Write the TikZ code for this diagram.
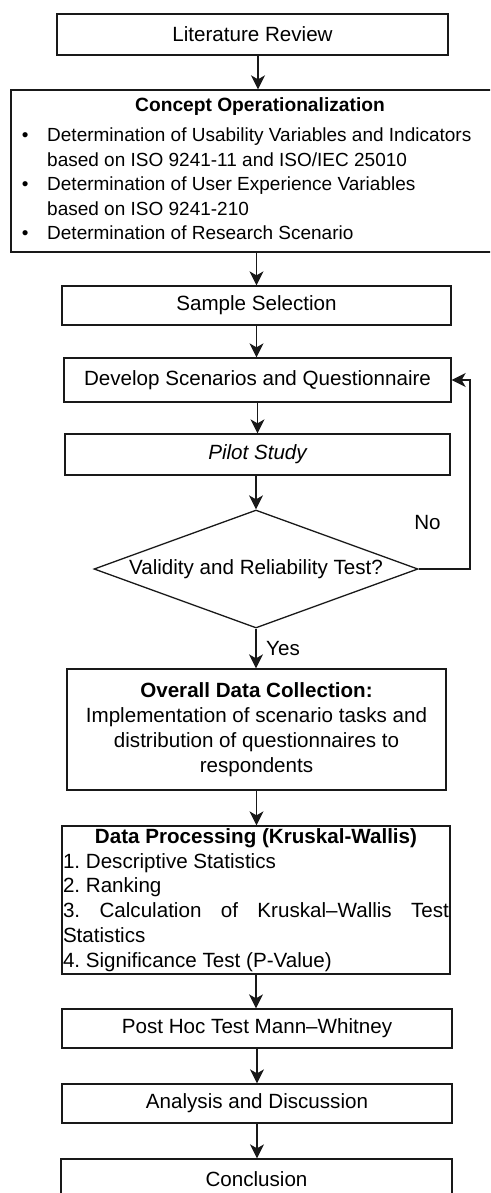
\documentclass[tikz,border=0pt]{standalone}
\usepackage{fontspec}
\setmainfont{Liberation Sans}
\usetikzlibrary{arrows.meta,shapes.geometric}

\begin{document}
\begin{tikzpicture}[x=1pt,y=-1pt,
  every node/.style={font=\fontsize{20.6}{24.8}\selectfont, text=black},
  small/.style={font=\fontsize{19}{24.5}\selectfont},
  box/.style={draw=black!90, line width=1.3pt, rectangle, inner sep=0pt},
  decision/.style={draw=black!90, line width=1.3pt, diamond, inner sep=0pt},
  link/.style={draw=black!90, line width=1.4pt, -{Stealth[length=14pt,width=14pt,inset=4pt]}},
  lbl/.style={inner sep=0pt}
]
\clip (0,0) rectangle (490,1193);

% process boxes
\node[box, minimum width=391pt, minimum height=41pt] (lit) at (252.5,34.5) {Literature Review};

\node[box, minimum width=498pt, minimum height=162pt] (concept) at (260,171) {};
\node[lbl, anchor=base, font=\fontsize{19.2}{24.5}\selectfont\bfseries] (conTitle) at (260,111.2) {Concept Operationalization};
\node[lbl, small, anchor=base west] (conList) at (21.7,141.8) {%
  \begin{tabular}[t]{@{}p{25.3pt}@{}l@{}}
    \textbullet & Determination of Usability Variables and Indicators\\
                & based on ISO 9241-11 and ISO/IEC 25010\\
    \textbullet & Determination of User Experience Variables\\
                & based on ISO 9241-210\\
    \textbullet & Determination of Research Scenario
  \end{tabular}};

\node[box, minimum width=389pt, minimum height=39pt] (sample) at (256.5,305.5) {Sample Selection};
\node[box, minimum width=387pt, minimum height=44pt] (develop) at (257.5,380) {Develop Scenarios and Questionnaire};
\node[box, minimum width=385pt, minimum height=41pt] (pilot) at (257.5,454.5) {\itshape Pilot Study};
\node[decision, minimum width=324pt, minimum height=118pt] (check) at (256,569) {\makebox[0pt]{Validity and Reliability Test?}};

\node[box, minimum width=379pt, minimum height=121pt, align=center] (collect) at (256.5,729.5)
  {\textbf{Overall Data Collection:}\\Implementation of scenario tasks and\\distribution of questionnaires to\\respondents};

\node[box, minimum width=388pt, minimum height=148pt, text width=386pt, inner xsep=1pt, inner ysep=0pt, align=justify] (process) at (256,900)
  {\frenchspacing\parindent=0pt\parskip=0pt\hyphenpenalty=10000\exhyphenpenalty=10000\tolerance=10000
   {\centering\bfseries Data Processing (Kruskal-Wallis)\par}
   1. Descriptive Statistics\par
   2. Ranking\par
   3. Calculation of Kruskal–Wallis Test Statistics\par
   4. Significance Test (P-Value)};

\node[box, minimum width=390pt, minimum height=39pt] (posthoc) at (257,1028.5) {Post Hoc Test Mann–Whitney};
\node[box, minimum width=390pt, minimum height=39pt] (analysis) at (257,1103.5) {Analysis and Discussion};
\node[box, minimum width=391pt, minimum height=40pt] (concl) at (256.5,1179) {Conclusion};

% labels on the decision branches
\node[lbl, anchor=west] (yes) at (266,649) {Yes};
\node[lbl] (no) at (427.5,523) {No};

% connectors
\draw[link] ([xshift=5.5pt]lit.south) -- ([xshift=5.5pt]lit.south |- concept.north);
\draw[link] (sample.north |- concept.south) -- (sample.north);
\draw[link] (sample.south) -- (sample.south |- develop.north);
\draw[link] (develop.south) -- (develop.south |- pilot.north);
\draw[link] (check.north |- pilot.south) -- (check.north);
\draw[link] (check.south) -- (check.south |- collect.north);
\draw[link] (collect.south) -- (collect.south |- process.north);
\draw[link] (process.south) -- (process.south |- posthoc.north);
\draw[link] (posthoc.south) -- (posthoc.south |- analysis.north);
\draw[link] (analysis.south) -- (analysis.south |- concl.north);

% "No" branch loops back to the scenario design step
\coordinate (loop) at (470,569);
\draw[link] (check.east) -- (loop) |- (develop.east);
\end{tikzpicture}
\end{document}
